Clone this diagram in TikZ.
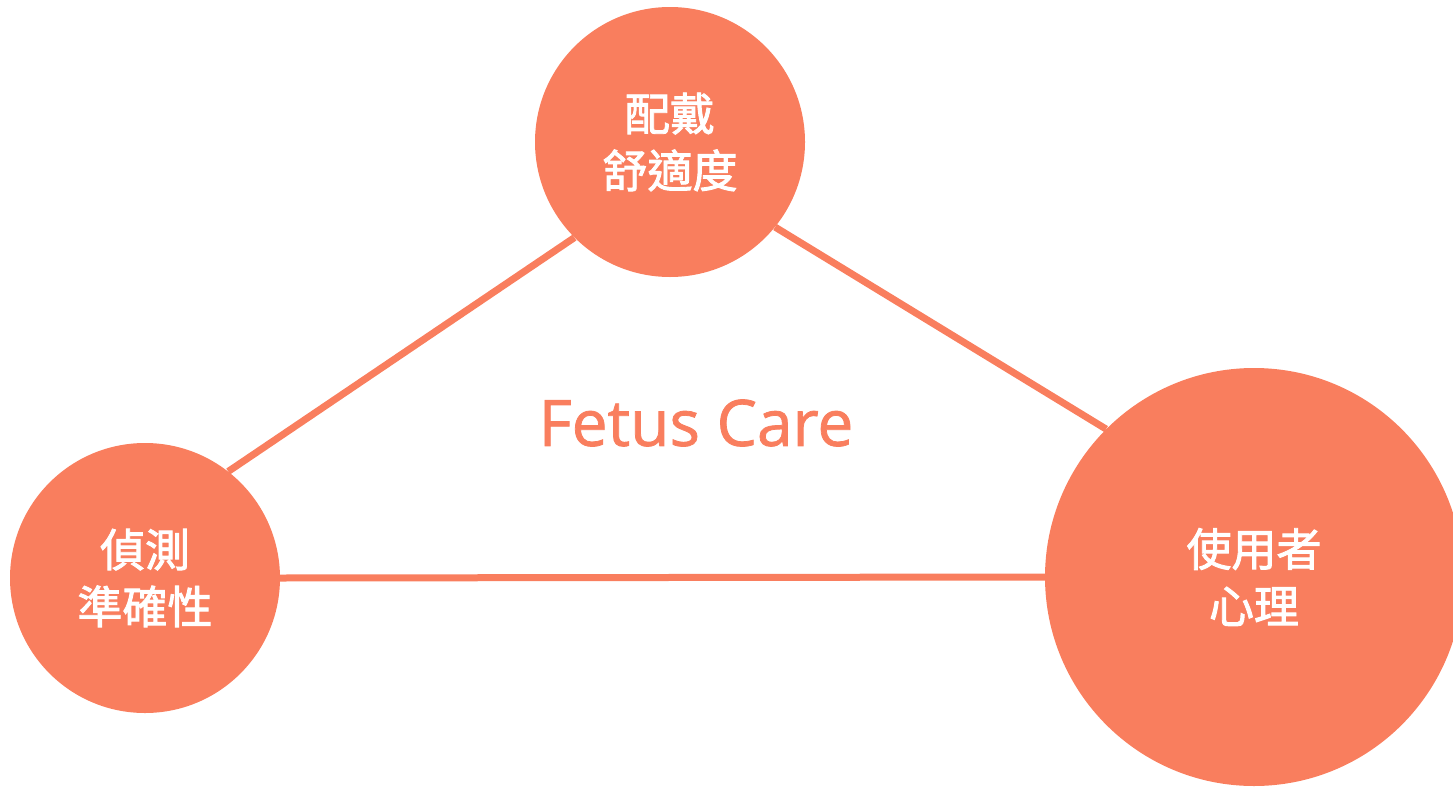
\documentclass[tikz,border=0pt]{standalone}
\usepackage{fontspec}
\newfontfamily\cjk[FakeBold=2]{Noto Sans CJK TC}
\newfontfamily\latinfont[FakeBold=1.2]{Open Sans}
\definecolor{salmon}{RGB}{249,126,94}
\begin{document}
\begin{tikzpicture}[x=1pt,y=-1pt,
  bubble/.style={circle,fill=salmon,draw=none,inner sep=0pt,text=white,align=center,
    font=\cjk\fontsize{45}{57}\selectfont},
  link/.style={draw=salmon,line width=7pt}]
\useasboundingbox (0,0) rectangle (1453,787);
\node[bubble,minimum size=270pt] (top) at (670,142) {配戴\\舒適度};
\node[bubble,minimum size=270pt] (left) at (145,578) {偵測\\準確性};
\node[bubble,minimum size=418pt] (right) at (1254,577) {使用者\\心理};
\node[text=salmon,font=\latinfont\fontsize{64}{70}\selectfont,inner sep=0pt] (title) at (696,423) {Fetus Care};
\draw[link] (top.225) -- (left.52);
\draw[link] (top.-39) -- (right.135);
\draw[link] (left.east) -- (right.west);
\end{tikzpicture}
\end{document}
